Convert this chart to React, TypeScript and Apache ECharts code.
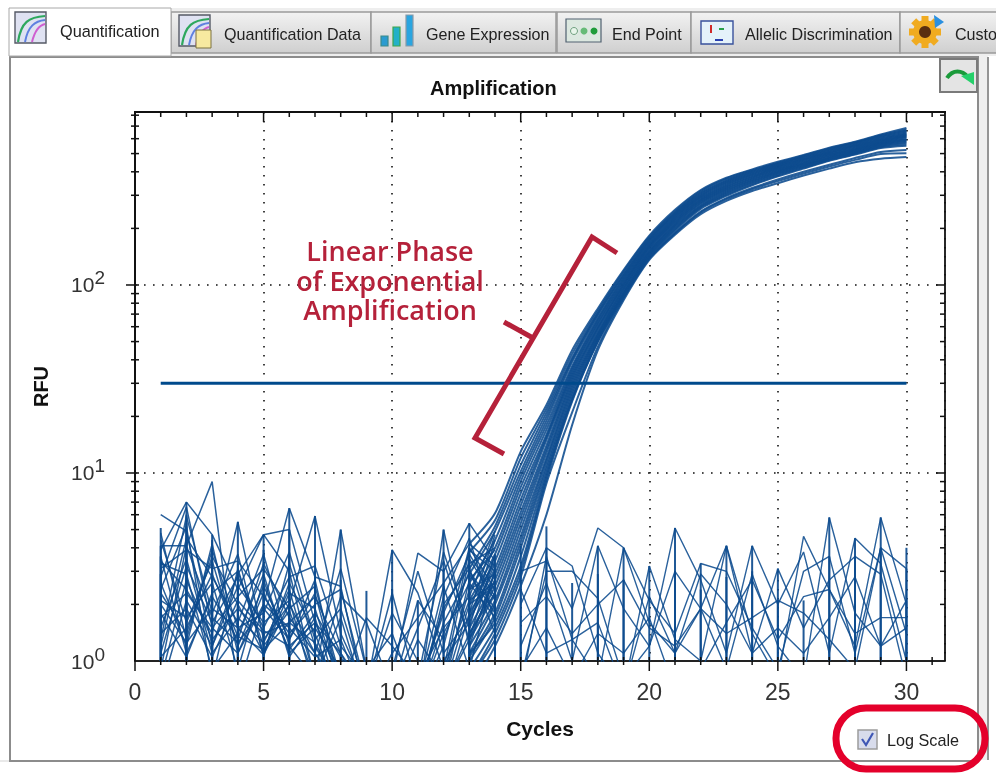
import React, { useEffect, useRef } from "react";
import * as echarts from "echarts";

const BLUE = "#0d4b8e";
const RED = "#b5213a";
const threshold = 30;
const axisTickLabels = [0, 5, 10, 15, 20, 25, 30];
const xTicks = Array.from({ length: 32 }, (_, i) => i);
const yTicks = [2, 3, 4, 5, 6, 7, 8, 9, 10, 20, 30, 40, 50, 60, 70, 80, 90, 100, 200, 300, 400, 500, 600, 700, 800];
const tabLabels = ["Quantification", "Quantification Data", "Gene Expression", "End Point", "Allelic Discrimination", "Custo"];

// amplification traces, cycles 13..30
const ampCycles = [13, 14, 15, 16, 17, 18, 19, 20, 21, 22, 23, 24, 25, 26, 27, 28, 29, 30];
const amp01 = [4.2, 6.1, 13, 23, 45, 75, 120, 183, 251, 320, 372, 412, 452, 492, 538, 578, 632, 684];
const amp02 = [3.8, 5.6, 12, 22, 43, 73, 118, 180, 247, 316, 368, 408, 447, 488, 533, 574, 626, 672];
const amp03 = [3.1, 5.2, 11, 21, 41, 71, 115, 177, 243, 311, 362, 404, 443, 483, 528, 569, 620, 664];
const amp04 = [2.9, 4.9, 10.2, 20, 40, 70, 113, 174, 240, 307, 358, 400, 439, 479, 523, 564, 614, 655];
const amp05 = [2.6, 4.4, 9.6, 19, 39, 68, 111, 172, 237, 303, 354, 396, 435, 475, 518, 558, 608, 648];
const amp06 = [2.4, 4, 9, 18, 37, 66, 109, 169, 234, 299, 350, 392, 431, 470, 513, 553, 602, 640];
const amp07 = [2.1, 3.7, 8.4, 17, 36, 65, 107, 167, 231, 296, 346, 388, 427, 466, 508, 548, 596, 634];
const amp08 = [2, 3.4, 7.8, 16, 35, 63, 105, 164, 228, 292, 342, 384, 423, 462, 504, 543, 590, 628];
const amp09 = [1.8, 3.1, 7.2, 15.5, 34, 62, 103, 162, 225, 289, 338, 380, 419, 458, 499, 538, 585, 622];
const amp10 = [1.7, 2.9, 6.7, 15, 33, 60, 101, 160, 222, 285, 334, 376, 415, 453, 495, 533, 580, 616];
const amp11 = [1.5, 2.7, 6.2, 14, 32, 59, 100, 158, 219, 282, 330, 372, 411, 449, 490, 528, 575, 610];
const amp12 = [1.4, 2.5, 5.8, 13.4, 31, 58, 98, 156, 216, 279, 326, 368, 407, 445, 486, 524, 570, 604];
const amp13 = [1.3, 2.3, 5.4, 12.8, 30, 56, 96, 153, 213, 275, 322, 364, 403, 441, 481, 519, 565, 598];
const amp14 = [1.2, 2.1, 5, 12, 29, 55, 95, 151, 210, 272, 318, 360, 399, 437, 477, 515, 560, 592];
const amp15 = [1.1, 2, 4.6, 11.6, 28, 54, 93, 149, 207, 268, 314, 356, 395, 433, 473, 510, 555, 585];
const amp16 = [1.05, 1.8, 4.3, 11, 27, 53, 91, 147, 204, 264, 310, 352, 391, 429, 469, 506, 550, 578];
const amp17 = [1, 1.7, 4, 10.5, 26, 52, 90, 145, 201, 261, 306, 348, 387, 425, 465, 502, 545, 570];
const amp18 = [1.1, 1.6, 3.6, 10, 25, 51, 89, 143, 198, 258, 302, 343, 382, 420, 461, 497, 540, 560];
const amp19 = [0.9, 1.5, 3.2, 9.6, 24.5, 50, 88, 142, 195, 254, 298, 339, 378, 416, 458, 494, 535, 550];
const amp20 = [0.8, 1.4, 3, 9.2, 24, 50, 86, 139, 190, 246, 290, 328, 364, 400, 436, 474, 510, 522];
const amp21 = [0.8, 1.3, 2.8, 8.8, 21, 47, 85, 138, 188, 243, 286, 323, 357, 392, 427, 463, 497, 502];
const amp22 = [0.7, 1.2, 2.5, 6, 18, 45, 83, 136, 185, 238, 280, 316, 348, 382, 416, 450, 470, 480];
const ampTraces = [amp01, amp02, amp03, amp04, amp05, amp06, amp07, amp08, amp09, amp10, amp11, amp12, amp13, amp14, amp15, amp16, amp17, amp18, amp19, amp20, amp21, amp22];

// baseline noise, cycles 1..14
const earlyCycles = [1, 2, 3, 4, 5, 6, 7, 8, 9, 10, 11, 12, 13, 14];
const early01 = [6, 4.9, 1.2, 2.9, 4.7, 5, 1.6, 0.8, 0.7, 0.6, 0.7, 1.9, 3.3, 4];
const early02 = [4.1, 4.1, 9, 0.7, 2, 6.5, 2.8, 2.5, 0.6, 0.8, 3.75, 3, 5.4, 3.4];
const early03 = [3.9, 7, 4.7, 2.4, 4.7, 3, 0.8, 5, 0.9, 0.7, 0.6, 5, 1.2, 3];
const early04 = [3.4, 2.4, 1.4, 5.5, 1.3, 2, 5.9, 1.4, 0.7, 3.9, 2.3, 0.9, 2.1, 2.6];
const early05 = [2.8, 6.6, 1.5, 2.2, 3.1, 1.9, 2.5, 0.8, 0.6, 1.1, 1.7, 2.6, 4.2, 3.2];
const early06 = [3.1, 3.9, 3.1, 3.4, 2.2, 1.4, 2, 2.4, 0.7, 1, 0.7, 1.8, 3.7, 2.2];
const early07 = [2.4, 5.2, 0.8, 3.1, 1.1, 2.3, 1.9, 0.7, 1.7, 1.2, 0.8, 3.8, 1.5, 4.4];
const early08 = [1.2, 4.5, 2.8, 1.6, 3.7, 1.2, 0.8, 2.2, 1.6, 0.7, 2.1, 1.3, 3, 1.9];
const early09 = [4.8, 1.3, 3.9, 1.5, 1.8, 3.8, 1.3, 1.9, 0.7, 2.3, 0.7, 2.5, 0.9, 3.1];
const early10 = [1.1, 3.2, 1.6, 2.8, 1.5, 2.8, 3.2, 1.2, 0.8, 0.6, 1.3, 0.8, 2.4, 2.9];
const early11 = [3.6, 1.1, 2.2, 1.3, 3.3, 1.7, 1.1, 3.1, 0.9, 1.4, 0.6, 2.2, 4.5, 1.6];
const early12 = [0.8, 2.7, 1.3, 1.9, 1.4, 1.6, 2.2, 1.1, 0.7, 0.9, 3, 1.1, 1.7, 3.6];
const early13 = [2.1, 1.7, 2.6, 0.9, 2.7, 1.1, 1.5, 0.9, 0.7, 1.8, 1, 0.8, 3.5, 2.1];
const early14 = [1.5, 3.5, 1.1, 1.7, 1.25, 2.4, 0.8, 1.7, 0.6, 0.7, 1.5, 3.4, 1.3, 2.7];
const early15 = [4.4, 1.6, 3.4, 1.2, 2.5, 1.3, 2.7, 0.7, 0.6, 0.6, 0.6, 0.7, 2.7, 3.9];
const early16 = [1.3, 5.9, 1.8, 3.7, 1.05, 3.3, 1.2, 0.7, 0.6, 0.6, 0.6, 1.2, 4, 2.4];
const early17 = [2.6, 1.2, 4.2, 1.1, 2, 1.5, 1.05, 1.3, 0.6, 0.6, 0.6, 0.6, 1.8, 4.7];
const early18 = [0.7, 2.1, 1.2, 2.5, 1.6, 2.1, 0.7, 0.7, 0.6, 0.6, 0.6, 2, 3.1, 1.4];
const early19 = [3.3, 2.9, 0.9, 1.4, 2.9, 1.05, 1.7, 0.6, 0.6, 0.6, 0.6, 0.7, 1.3, 3.7];
const early20 = [1.8, 1.05, 2.3, 3, 1.2, 1.85, 0.8, 0.6, 0.6, 0.6, 0.8, 1.5, 2.2, 4.9];
const early21 = [0.9, 4.1, 1.7, 1.25, 1.9, 1.3, 2.3, 0.7, 0.6, 0.6, 0.6, 0.9, 3.9, 3];
const early22 = [2.3, 1.4, 3.6, 2, 1.1, 2.6, 1.4, 0.6, 0.6, 0.6, 0.6, 1.4, 2.6, 1.7];
const early23 = [1.7, 2.3, 1.5, 1.1, 2.3, 1.15, 1.8, 1.05, 0.6, 0.6, 0.6, 0.7, 2, 2.5];
const early24 = [1.05, 1.5, 2.9, 1.35, 1.15, 1.6, 1.25, 0.7, 0.6, 0.6, 0.6, 1, 1.6, 3.3];
const early25 = [1.4, 1.9, 1.05, 2.1, 1.45, 1.2, 1.6, 1.1, 0.6, 0.6, 0.6, 1.6, 2.9, 1.8];
const early26 = [2, 1.25, 1.9, 1.5, 1.08, 2, 1.1, 0.7, 0.6, 0.6, 0.6, 0.7, 1.4, 2.3];
const earlyTraces = [early01, early02, early03, early04, early05, early06, early07, early08, early09, early10, early11, early12, early13, early14, early15, early16, early17, early18, early19, early20, early21, early22, early23, early24, early25, early26];

// no-template wells, cycles 15..30
const lateCycles = [15, 16, 17, 18, 19, 20, 21, 22, 23, 24, 25, 26, 27, 28, 29, 30];
const late01 = [2, 4, 3.2, 1.1, 0.7, 3.2, 1.3, 1, 4.1, 1.4, 0.8, 4.6, 2.4, 1.2, 5.8, 2];
const late02 = [0.8, 3, 3, 2.15, 0.8, 1.2, 5.1, 2.7, 1.1, 4.1, 2, 3.8, 1.1, 4.5, 3.3, 1];
const late03 = [3, 3.4, 1.9, 5.1, 4, 2.1, 1.4, 3.3, 3, 1.5, 0.9, 3, 3.6, 1.1, 4, 3.1];
const late04 = [1.2, 2.6, 1, 4.1, 1.9, 1.2, 3, 1.9, 4.1, 1.1, 3.1, 1.5, 2.7, 3.6, 2.9, 0.8];
const late05 = [0.7, 3.6, 1.3, 0.8, 4, 1.6, 1.1, 1.9, 0.9, 2.9, 1.2, 0.8, 5.8, 1.8, 1.2, 2.1];
const late06 = [1.6, 2.2, 1.4, 2, 2.7, 1.5, 1.2, 1.9, 1.4, 1.7, 2.1, 1.8, 1.3, 0.9, 4, 1.4];
const late07 = [0.9, 1.5, 0.8, 1.4, 1.1, 1.7, 0.7, 0.9, 1.6, 2.7, 1.3, 2.2, 2.4, 1.4, 1.7, 1.7];
const late08 = [2.4, 1.1, 1.3, 1.6, 0.7, 2.2, 1.1, 2.9, 2, 1.1, 1.5, 1.1, 1.7, 2.8, 1.2, 1.5];
const lateTraces = [late01, late02, late03, late04, late05, late06, late07, late08];

// vertical rises from the baseline: [cycle, peak]
const spikes = [
  [1, 5.1], [1, 4.1], [1, 3.6], [1, 2.9], [2, 7], [2, 6], [2, 5.4], [2, 4.4], [3, 4.7], [3, 4.4], [3, 3.4], [3, 2.6], [4, 5.5], [4, 3.3], [4, 2.5],
  [5, 4.7], [5, 3.9], [5, 2.8], [6, 6.5], [6, 5], [6, 3.6], [7, 5.9], [7, 3], [8, 5], [8, 2.7], [9, 2.36],
  [10, 3.9], [10, 2.4], [11, 2.1], [12, 5], [12, 3.1], [13, 5.4], [13, 4], [13, 3.2], [14, 3.7], [14, 2.9], [15, 4.1], [15, 3.2], [16, 5.2], [16, 4],
  [17, 2.6], [18, 4.1], [18, 2.9], [19, 4], [19, 2.7], [20, 3.2], [21, 5.1], [21, 3], [22, 3.3], [22, 2.4], [23, 4.1],
  [23, 2.8], [24, 4.1], [24, 3], [25, 3.1], [25, 2.1], [26, 2.1], [27, 5.8], [27, 3.6], [28, 4.5], [28, 3.6], [29, 5.8],
  [29, 4], [30, 4], [30, 3.1], [30, 2.1],
];

function zip(xs: number[], ys: number[]) {
  return ys.map((y, i) => [xs[i], y]);
}

function lineSeries(xs: number[], ys: number[], width: number, smooth: number) {
  return {
    type: "line",
    data: zip(xs, ys),
    showSymbol: false,
    silent: true,
    clip: true,
    smooth,
    lineStyle: { color: BLUE, width, opacity: 0.88 },
  };
}

function tab(x: number, w: number) {
  return {
    type: "rect",
    shape: { x, y: 12, width: w, height: 41 },
    style: {
      fill: new echarts.graphic.LinearGradient(0, 0, 0, 1, [
        { offset: 0, color: "#f2f2f2" },
        { offset: 1, color: "#cfcfcf" },
      ]),
      stroke: "#9a9a9a",
      lineWidth: 1.5,
    },
  };
}

function label(text: string, x: number, y: number, size: number) {
  return {
    type: "text",
    x,
    y,
    style: { text, fill: "#222", font: `${size}px "Liberation Sans"`, textVerticalAlign: "middle" },
  };
}

function curveIcon(x: number, y: number) {
  return {
    type: "group",
    x,
    y,
    children: [
      { type: "rect", shape: { x: 0, y: 0, width: 31, height: 31 }, style: { fill: "#dfe2f2", stroke: "#555a66", lineWidth: 1.4 } },
      { type: "bezierCurve", shape: { x1: 3, y1: 30, cpx1: 6, cpy1: 10, cpx2: 14, cpy2: 5, x2: 30, y2: 4 }, style: { fill: "none", stroke: "#2ea85e", lineWidth: 2.2 } },
      { type: "bezierCurve", shape: { x1: 10, y1: 30, cpx1: 13, cpy1: 14, cpx2: 20, cpy2: 9, x2: 30, y2: 8 }, style: { fill: "none", stroke: "#5f80e0", lineWidth: 2 } },
      { type: "bezierCurve", shape: { x1: 17, y1: 30, cpx1: 20, cpy1: 18, cpx2: 25, cpy2: 13, x2: 30, y2: 12 }, style: { fill: "none", stroke: "#cf5fd0", lineWidth: 2 } },
    ],
  };
}

function uiElements() {
  const gearTeeth = [0, 45, 90, 135].map((deg) => ({
    type: "rect",
    x: 925,
    y: 32,
    rotation: (deg * Math.PI) / 180,
    shape: { x: -16, y: -3.5, width: 32, height: 7 },
    style: { fill: "#f0ab20" },
  }));
  return [
    { type: "rect", z: -10, shape: { x: 0, y: 0, width: 996, height: 774 }, style: { fill: "#ffffff" } },
    { type: "rect", z: -9, shape: { x: 171, y: 8, width: 825, height: 48 }, style: { fill: "#eeeeee" } },
    { type: "rect", z: -9, shape: { x: 979, y: 56, width: 9, height: 704 }, style: { fill: "#efefef" } },
    { type: "line", z: -8, shape: { x1: 988, y1: 57, x2: 988, y2: 760 }, style: { stroke: "#959595", lineWidth: 2 } },
    { type: "line", z: -8, shape: { x1: 0, y1: 761, x2: 980, y2: 761 }, style: { stroke: "#e2e2e2", lineWidth: 1.5 } },
    { type: "rect", z: -8, shape: { x: 10, y: 57, width: 968, height: 704 }, style: { fill: "#ffffff", stroke: "#8c8c8c", lineWidth: 2 } },
    {
      type: "group",
      z: -7,
      children: [
        tab(171, 200),
        tab(371, 185),
        tab(557, 134),
        tab(691, 209),
        tab(900, 110),
        { type: "rect", shape: { x: 9, y: 8, width: 162, height: 48 }, style: { fill: "#ffffff", stroke: "#a8a8a8", lineWidth: 1 } },
      ],
    },
    curveIcon(15, 12),
    curveIcon(179, 15),
    { type: "rect", shape: { x: 196, y: 30, width: 15, height: 18 }, style: { fill: "#f7e9a0", stroke: "#7d7240", lineWidth: 1 } },
    { type: "rect", shape: { x: 381, y: 36, width: 7, height: 10 }, style: { fill: "#2a9bd0", stroke: "#3a8a8a", lineWidth: 1.2 } },
    { type: "rect", shape: { x: 393, y: 27, width: 7, height: 19 }, style: { fill: "#22b0c8", stroke: "#3ea64a", lineWidth: 1.2 } },
    { type: "rect", shape: { x: 406, y: 15, width: 7, height: 31 }, style: { fill: "#2aa5e0", stroke: "#8a9aa8", lineWidth: 1.2 } },
    { type: "rect", shape: { x: 566, y: 19, width: 35, height: 23 }, style: { fill: "#dce8e0", stroke: "#506070", lineWidth: 1.2 } },
    { type: "circle", shape: { cx: 574, cy: 31, r: 3.5 }, style: { fill: "#e8f5ea", stroke: "#70a080" } },
    { type: "circle", shape: { cx: 584, cy: 31, r: 3.5 }, style: { fill: "#66bb77" } },
    { type: "circle", shape: { cx: 594, cy: 31, r: 3.5 }, style: { fill: "#1f9d3a" } },
    { type: "rect", shape: { x: 701, y: 21, width: 32, height: 23 }, style: { fill: "#e4f2fa", stroke: "#39529c", lineWidth: 1.4 } },
    { type: "rect", shape: { x: 710, y: 25, width: 2, height: 8 }, style: { fill: "#d02a2a" } },
    { type: "rect", shape: { x: 719, y: 28, width: 5, height: 2 }, style: { fill: "#2aa04a" } },
    { type: "rect", shape: { x: 715, y: 39, width: 8, height: 2 }, style: { fill: "#2a40b0" } },
    ...gearTeeth,
    { type: "circle", shape: { cx: 925, cy: 32, r: 12 }, style: { fill: "#f0ab20" } },
    { type: "circle", shape: { cx: 925, cy: 32, r: 6 }, style: { fill: "#5a2f10" } },
    { type: "polygon", shape: { points: [[934, 15], [944, 22], [935, 28]] }, style: { fill: "#2a90e0" } },
    ...tabLabels.map((t, i) => label(t, [60, 224, 426, 612, 745, 955][i], i === 0 ? 31 : 34, i === 0 ? 16.3 : 16.1)),
    { type: "rect", shape: { x: 940, y: 59, width: 37, height: 33 }, style: { fill: "#e4e4e4", stroke: "#7a7a7a", lineWidth: 2 } },
    { type: "bezierCurve", shape: { x1: 947, y1: 78, cpx1: 953, cpy1: 69, cpx2: 962, cpy2: 70, x2: 968, y2: 77 }, style: { fill: "none", stroke: "#1a9a3a", lineWidth: 4 } },
    { type: "polygon", shape: { points: [[961, 76], [974, 72], [974, 85]] }, style: { fill: "#25d06a" } },

    { type: "rect", shape: { x: 858, y: 730, width: 19, height: 19 }, style: { fill: "#d8dcec", stroke: "#9c9c9c", lineWidth: 1.5 } },
    { type: "polyline", shape: { points: [[862, 739], [866, 745], [873, 733]] }, style: { fill: "none", stroke: "#3f57b5", lineWidth: 2.2 } },
    { type: "text", x: 887, y: 740, style: { text: "Log Scale", fill: "#222", font: '16.2px "Liberation Sans"', textVerticalAlign: "middle" } },
    { type: "rect", z: 20, shape: { x: 836, y: 708, width: 149, height: 61, r: 30 }, style: { fill: "none", stroke: "#e4002b", lineWidth: 7 } },

    { type: "polyline", z: 20, shape: { points: [[617, 253], [592, 237], [475, 438], [504, 454]] }, style: { fill: "none", stroke: RED, lineWidth: 5 } },
    { type: "line", z: 20, shape: { x1: 504, y1: 322, x2: 533, y2: 338 }, style: { stroke: RED, lineWidth: 5 } },
    ...["Linear Phase", "of Exponential", "Amplification"].map((t, i) => ({
      type: "text",
      z: 20,
      x: 390,
      y: [250, 280, 309][i],
      style: { text: t, fill: RED, font: '600 27px "Open Sans"', lineHeight: 27, textAlign: "center", textVerticalAlign: "middle" },
    })),
  ];
}

function renderTicks(_: any, api: any) {
  const left = api.coord([0, 1])[0];
  const right = api.coord([31.5, 1])[0];
  const top = api.coord([0, 832])[1];
  const bottom = api.coord([0, 1])[1];
  const seg = (x1: number, y1: number, x2: number, y2: number, lineWidth = 1.5) => ({
    type: "line",
    shape: { x1, y1, x2, y2 },
    style: { stroke: "#111", lineWidth },
  });
  const children: any[] = [seg(left - 1, top, right + 1, top, 2), seg(right, top, right, bottom, 1.8), seg(left, top, left, bottom, 2)];
  xTicks.forEach((t) => {
    const x = api.coord([t, 1])[0];
    const major = t % 5 === 0;
    children.push(seg(x, bottom - 4, x, bottom + (major ? 10 : 4)));
    children.push(seg(x, top, x, top + (major ? 10 : 5)));
  });
  yTicks.forEach((t) => {
    const y = api.coord([0, t])[1];
    const major = t === 10 || t === 100;
    children.push(seg(left - (major ? 9 : 4), y, left + 4, y));
    children.push(seg(right - (major ? 9 : 5), y, right, y));
  });
  return { type: "group", children };
}

function renderSpike(_: any, api: any) {
  const p = api.coord([api.value(0), api.value(1)]);
  const b = api.coord([api.value(0), 1]);
  return {
    type: "line",
    shape: { x1: p[0], y1: p[1], x2: b[0], y2: b[1] },
    style: { stroke: BLUE, lineWidth: 2, opacity: 0.92 },
  };
}

export default function App() {
  const ref = useRef<HTMLDivElement>(null);
  useEffect(() => {
    const chart = echarts.init(ref.current!, undefined, { renderer: "svg" });
    chart.setOption({
      animation: false,
      backgroundColor: "transparent",
      title: {
        text: "Amplification",
        left: 425,
        top: 73,
        textStyle: { fontFamily: "Liberation Sans", fontSize: 20, fontWeight: "bold", color: "#111" },
      },
      grid: { left: 135, right: 51, top: 112, bottom: 113, show: false },
      xAxis: {
        type: "value",
        min: 0,
        max: 31.5,
        interval: 5,
        name: "Cycles",
        nameLocation: "middle",
        nameGap: 57,
        nameTextStyle: { fontFamily: "Liberation Sans", fontSize: 21, fontWeight: "bold", color: "#111" },
        axisLine: { show: true, onZero: false, lineStyle: { color: "#222", width: 2 } },
        axisTick: { show: false },
        axisLabel: {
          margin: 19,
          fontFamily: "Liberation Sans",
          fontSize: 23,
          color: "#333",
          showMaxLabel: false,
          formatter: (v: number) => (axisTickLabels.includes(v) ? String(v) : ""),
        },
        splitLine: { show: true, lineStyle: { color: "#111", type: [1.6, 7.4], width: 1.6 } },
      },
      yAxis: {
        type: "log",
        logBase: 10,
        min: 1,
        max: 832,
        name: "RFU",
        nameLocation: "middle",
        nameGap: 84,
        nameRotate: 90,
        nameTextStyle: { fontFamily: "Liberation Sans", fontSize: 20, fontWeight: "bold", color: "#111" },
        axisLine: { show: false },
        axisTick: { show: false },
        axisLabel: {
          margin: 30,
          fontFamily: "Liberation Sans",
          fontSize: 21,
          color: "#333",
          formatter: (v: number) => {
            const e = Math.log10(v);
            return Math.abs(e - Math.round(e)) < 1e-6 ? `10{s|${Math.round(e)}}` : "";
          },
          rich: { s: { fontFamily: "Liberation Sans", fontSize: 19, color: "#333", padding: [0, 0, 14, 0] } },
        },
        splitLine: { show: true, lineStyle: { color: "#111", type: [1.6, 7.4], width: 1.6 } },
      },
      graphic: { elements: uiElements() },
      series: [
        ...earlyTraces.map((t) => lineSeries(earlyCycles, t, 1.5, 0)),
        ...lateTraces.map((t) => lineSeries(lateCycles, t, 1.4, 0)),
        { type: "custom", data: spikes, renderItem: renderSpike, silent: true, clip: true, z: 2 },
        ...ampTraces.map((t) => lineSeries(ampCycles, t, 2, 0.25)),
        {
          type: "line",
          data: [[1, threshold], [30, threshold]],
          showSymbol: false,
          silent: true,
          z: 4,
          lineStyle: { color: "#004a8c", width: 3 },
        },
        { type: "custom", data: [[0, 1]], renderItem: renderTicks, silent: true, clip: false, z: 5 },
      ],
    });
    return () => chart.dispose();
  }, []);
  return <div ref={ref} style={{ position: "fixed", left: 0, top: 0, width: 996, height: 774 }} />;
}
